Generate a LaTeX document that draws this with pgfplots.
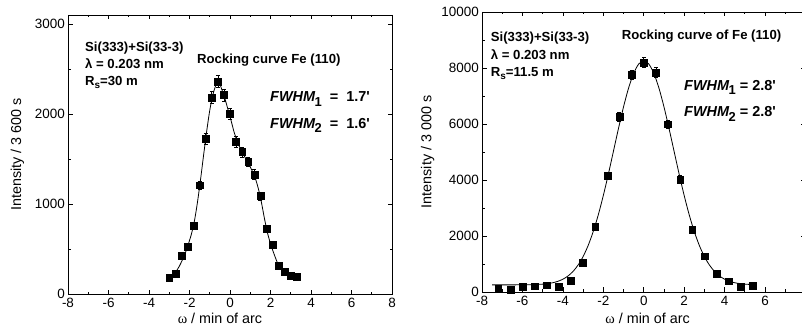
\documentclass[border=0pt]{standalone}
\usepackage{fontspec}
\setmainfont{Liberation Sans}
\newfontfamily\serif{Liberation Serif}
\usepackage{pgfplots}
\pgfplotsset{compat=1.18}
\pgfplotsset{
  rc/.style={
    scale only axis,
    anchor=south west,
    xmin=-8, xmax=8,
    xtick={-8,-6,...,8},
    minor x tick num=1,
    minor y tick num=1,
    scaled ticks=false,
    tick align=inside,
    xtick pos=both, ytick pos=both,
    major tick length=4.5bp,
    minor tick length=2.5bp,
    axis line style={line width=0.8bp},
    every tick/.style={line width=0.7bp, black},
    /pgf/number format/assume math mode=true,
    /pgf/number format/1000 sep={},
    tick label style={font=\fontsize{13.5}{14}\selectfont},
    xticklabel style={inner sep=0pt, anchor=north, yshift=-4bp},
    yticklabel style={inner sep=0pt, anchor=east, xshift=-3bp},
    label style={font=\fontsize{14.4}{15}\selectfont},
    xlabel={{\serif ω} / min of arc},
    xlabel style={anchor=base},
    ylabel style={anchor=center},
    clip=false,
  },
  pts/.style={only marks, mark=square*, mark size=3.4bp, black,
    mark options={solid, fill=black},
    error bars/.cd, y dir=both, y explicit,
    error bar style={line width=0.6bp, black},
    error mark options={rotate=90, mark size=2bp, line width=0.6bp, black}},
  fit/.style={no marks, black, line width=0.8bp, smooth, tension=0.5},
}
\newcommand{\ann}{\fontsize{13.2}{14}\selectfont\bfseries}
\begin{document}
\begin{tikzpicture}
\useasboundingbox (0bp,0bp) rectangle (802bp,327bp);
% ---------------- left panel ----------------
\begin{axis}[rc, at={(68bp,33bp)}, width=324bp, height=279bp,
  ymin=0, ymax=3100, ytick={0,1000,2000,3000},
  ylabel={Intensity / 3 600 s},
  ylabel style={at={(axis description cs:-0.156,0.5)}},
  xlabel style={at={(axis description cs:0.469,-0.104)}}]
\addplot[fit] coordinates {
(-2.8,210) (-2.65,255) (-2.5,310) (-2.35,380) (-2.2,460) (-2.05,560)
(-1.9,670) (-1.75,820) (-1.6,1030) (-1.45,1280) (-1.3,1550) (-1.15,1810)
(-1.0,2040) (-0.85,2210) (-0.7,2320) (-0.6,2350) (-0.5,2330) (-0.4,2270)
(-0.25,2170) (-0.1,2050) (0.05,1930) (0.2,1800) (0.35,1700) (0.5,1620)
(0.65,1555) (0.8,1495) (0.95,1435) (1.1,1365) (1.25,1285) (1.4,1170)
(1.55,1020) (1.7,840) (1.85,680) (2.0,560) (2.15,460) (2.3,370) (2.4,318)};
\addplot[pts] coordinates {
(-3.0,185) +- (0,19)
(-2.7,230) +- (0,21)
(-2.4,425) +- (0,29)
(-2.1,525) +- (0,32)
(-1.8,755) +- (0,38)
(-1.5,1208) +- (0,49)
(-1.2,1726) +- (0,58)
(-0.9,2185) +- (0,65)
(-0.6,2363) +- (0,68)
(-0.3,2211) +- (0,66)
(0.0,2000) +- (0,63)
(0.3,1689) +- (0,58)
(0.6,1578) +- (0,56)
(0.9,1470) +- (0,54)
(1.2,1330) +- (0,51)
(1.5,1089) +- (0,46)
(1.8,726) +- (0,38)
(2.1,552) +- (0,33)
(2.4,311) +- (0,25)
(2.7,252) +- (0,22)
(3.0,200) +- (0,20)
(3.3,189) +- (0,19)};
\end{axis}
% ---------------- right panel ----------------
\begin{axis}[rc, at={(482bp,35bp)}, width=323.5bp, height=280bp,
  ymin=0, ymax=10000, ytick={0,2000,...,10000},
  ylabel={Intensity / 3 000 s},
  ylabel style={at={(axis description cs:-0.168,0.5)}},
  xlabel style={at={(axis description cs:0.512,-0.112)}}]
\addplot[fit] coordinates {
(-7.5,255) (-6.5,255) (-6,257) (-5.5,263) (-5,281) (-4.75,300) (-4.5,331)
(-4.25,381) (-4,457) (-3.75,570) (-3.5,733) (-3.25,961) (-3,1265)
(-2.75,1661) (-2.5,2157) (-2.25,2753) (-2,3445) (-1.75,4212) (-1.5,5025)
(-1.25,5841) (-1,6612) (-0.75,7285) (-0.5,7809) (-0.25,8141) (0,8255)
(0.25,8141) (0.5,7809) (0.75,7285) (1,6612) (1.25,5841) (1.5,5025)
(1.75,4212) (2,3445) (2.25,2753) (2.5,2157) (2.75,1661) (3,1265)
(3.25,961) (3.5,733) (3.75,570) (4,457) (4.25,381) (4.5,331) (4.75,300)
(5,281) (5.3,268) (5.6,261)};
\addplot[pts] coordinates {
(-7.2,110) +- (0,21)
(-6.6,86) +- (0,19)
(-6.0,180) +- (0,27)
(-5.4,204) +- (0,29)
(-4.8,240) +- (0,31)
(-4.2,180) +- (0,27)
(-3.6,394) +- (0,40)
(-3.0,1038) +- (0,64)
(-2.4,2327) +- (0,96)
(-1.8,4141) +- (0,129)
(-1.2,6264) +- (0,158)
(-0.6,7756) +- (0,176)
(0.0,8196) +- (0,181)
(0.6,7838) +- (0,177)
(1.2,5991) +- (0,155)
(1.8,4023) +- (0,127)
(2.4,2233) +- (0,95)
(3.0,1278) +- (0,71)
(3.6,659) +- (0,51)
(4.2,383) +- (0,39)
(4.8,180) +- (0,27)
(5.4,229) +- (0,30)};
\end{axis}
% ---------------- annotations (left) ----------------
\begin{scope}[x=1bp,y=1bp]
\node[anchor=base west, inner sep=0pt] at (85,276) {\ann Si(333)+Si(33-3)};
\node[anchor=base west, inner sep=0pt] at (85,258.7) {\ann λ = 0.203 nm};
\node[anchor=base west, inner sep=0pt] at (85,241.3) {\ann R\raisebox{-3bp}{\fontsize{10}{10}\selectfont s}=30 m};
\node[anchor=base west, inner sep=0pt] at (197,264) {\ann Rocking curve Fe (110)};
\node[anchor=base west, inner sep=0pt] at (270,225.5) {\fontsize{14.5}{15}\selectfont\bfseries{\itshape FWHM}\kern-0.5bp\raisebox{-4.5bp}{\fontsize{13}{13}\selectfont 1}\ \ = \ 1.7\textquotesingle};
\node[anchor=base west, inner sep=0pt] at (270,199) {\fontsize{14.5}{15}\selectfont\bfseries{\itshape FWHM}\kern-0.5bp\raisebox{-4.5bp}{\fontsize{13}{13}\selectfont 2}\ \ = \ 1.6\textquotesingle};
% ---------------- annotations (right) ----------------
\node[anchor=base west, inner sep=0pt] at (490.7,285.5) {\ann Si(333)+Si(33-3)};
\node[anchor=base west, inner sep=0pt] at (490.7,267.7) {\ann λ = 0.203 nm};
\node[anchor=base west, inner sep=0pt] at (490.7,250.3) {\ann R\raisebox{-3bp}{\fontsize{10}{10}\selectfont s}=11.5 m};
\node[anchor=base west, inner sep=0pt] at (621.7,288) {\ann Rocking curve of Fe (110)};
\node[anchor=base west, inner sep=0pt] at (684,237) {\fontsize{14.5}{15}\selectfont\bfseries{\itshape FWHM}\kern-0.5bp\raisebox{-4.5bp}{\fontsize{13}{13}\selectfont 1}\ = 2.8\textquotesingle};
\node[anchor=base west, inner sep=0pt] at (684,210.3) {\fontsize{14.5}{15}\selectfont\bfseries{\itshape FWHM}\kern-0.5bp\raisebox{-4.5bp}{\fontsize{13}{13}\selectfont 2}\ = 2.8\textquotesingle};
\end{scope}
\end{tikzpicture}
\end{document}
